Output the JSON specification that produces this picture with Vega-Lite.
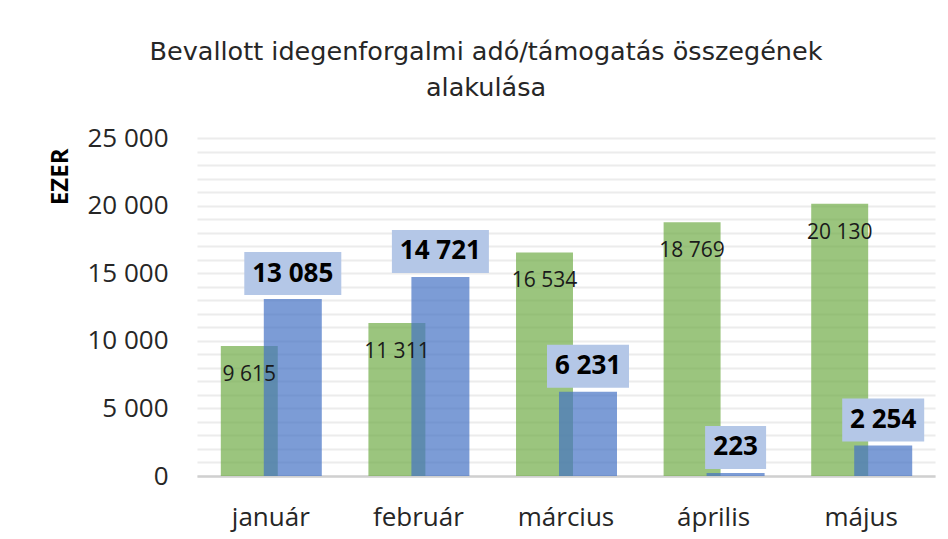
{
  "$schema": "https://vega.github.io/schema/vega-lite/v6.json",
  "width": 738,
  "height": 338,
  "autosize": {"type": "none"},
  "padding": {"left": 197, "top": 138, "right": 13, "bottom": 63},
  "background": "white",
  "config": {
    "locale": {"number": {"decimal": ",", "thousands": " ", "grouping": [3], "currency": ["", ""]}},
    "view": {"stroke": null},
    "font": "Open Sans"
  },
  "title": {
    "text": ["Bevallott idegenforgalmi adó/támogatás összegének", "alakulása"],
    "fontSize": 25.5,
    "fontWeight": "normal",
    "color": "#262626",
    "font": "DejaVu Sans",
    "anchor": "middle",
    "dx": -80,
    "lineHeight": 36,
    "offset": 24
  },
  "data": {
    "values": [
      {"honap": "január", "sorozat": "A", "ertek": 9615},
      {"honap": "február", "sorozat": "A", "ertek": 11311},
      {"honap": "március", "sorozat": "A", "ertek": 16534},
      {"honap": "április", "sorozat": "A", "ertek": 18769},
      {"honap": "május", "sorozat": "A", "ertek": 20130},
      {"honap": "január", "sorozat": "B", "ertek": 13085},
      {"honap": "február", "sorozat": "B", "ertek": 14721},
      {"honap": "március", "sorozat": "B", "ertek": 6231},
      {"honap": "április", "sorozat": "B", "ertek": 223},
      {"honap": "május", "sorozat": "B", "ertek": 2254}
    ]
  },
  "encoding": {
    "x": {
      "field": "honap",
      "type": "nominal",
      "sort": null,
      "scale": {"paddingInner": 0, "paddingOuter": 0},
      "axis": {
        "title": null,
        "labelAngle": 0,
        "labelFontSize": 26,
        "labelColor": "#262626",
        "labelPadding": 28,
        "ticks": false,
        "grid": false,
        "domainColor": "#d0d0d0",
        "domainWidth": 2.5,
        "labelFont": "Open Sans"
      }
    },
    "y": {
      "field": "ertek",
      "type": "quantitative",
      "scale": {"domain": [0, 25000], "nice": false},
      "axis": {
        "title": "EZER",
        "values": [0, 1000, 2000, 3000, 4000, 5000, 6000, 7000, 8000, 9000, 10000, 11000, 12000, 13000, 14000, 15000, 16000, 17000, 18000, 19000, 20000, 21000, 22000, 23000, 24000, 25000],
        "labelExpr": "datum.value % 5000 === 0 ? replace(format(datum.value, ','), ',', ' ') : ''",
        "labelOverlap": false,
        "domain": false,
        "ticks": false,
        "tickSize": 0,
        "labelPadding": 29,
        "labelFontSize": 26,
        "labelFont": "Open Sans",
        "labelColor": "#262626",
        "gridColor": "#ececec",
        "gridWidth": 2,
        "titleFont": "Open Sans",
        "titleFontSize": 24,
        "titleFontWeight": "bold",
        "titleColor": "#000000",
        "titleAngle": -90,
        "titleX": -137,
        "titleY": 10,
        "titleAlign": "right",
        "titleBaseline": "middle"
      }
    }
  },
  "layer": [
    {
      "transform": [{"filter": "datum.sorozat === 'A'"}],
      "mark": {"type": "bar", "color": "#70AD47", "opacity": 0.7, "width": {"band": 0.386}, "xOffset": -21.5}
    },
    {
      "transform": [{"filter": "datum.sorozat === 'B'"}],
      "mark": {"type": "bar", "color": "#4472C4", "opacity": 0.7, "width": {"band": 0.393}, "xOffset": 22}
    },
    {
      "transform": [{"filter": "datum.sorozat === 'A'"}],
      "mark": {"type": "text", "fontSize": 21, "font": "Open Sans", "color": "#1a1a1a", "dx": -21.5, "dy": 29, "baseline": "middle", "align": "center"},
      "encoding": {
        "text": {"field": "ertek", "type": "quantitative", "format": ","}
      }
    },
    {
      "transform": [{"filter": "datum.sorozat === 'B'"}],
      "mark": {"type": "bar", "color": "#B4C7E7", "xOffset": 22, "yOffset": -4, "y2Offset": -47},
      "encoding": {
        "y2": {"field": "ertek"},
        "size": {
          "field": "ertek",
          "type": "quantitative",
          "scale": {"type": "threshold", "domain": [1000, 10000], "range": [61, 82, 97]},
          "legend": null
        }
      }
    },
    {
      "transform": [{"filter": "datum.sorozat === 'B'"}],
      "mark": {"type": "text", "fontSize": 26, "font": "Open Sans", "fontWeight": "bold", "color": "#000000", "dx": 22, "dy": -25.5, "baseline": "middle", "align": "center"},
      "encoding": {
        "text": {"field": "ertek", "type": "quantitative", "format": ","}
      }
    }
  ]
}
